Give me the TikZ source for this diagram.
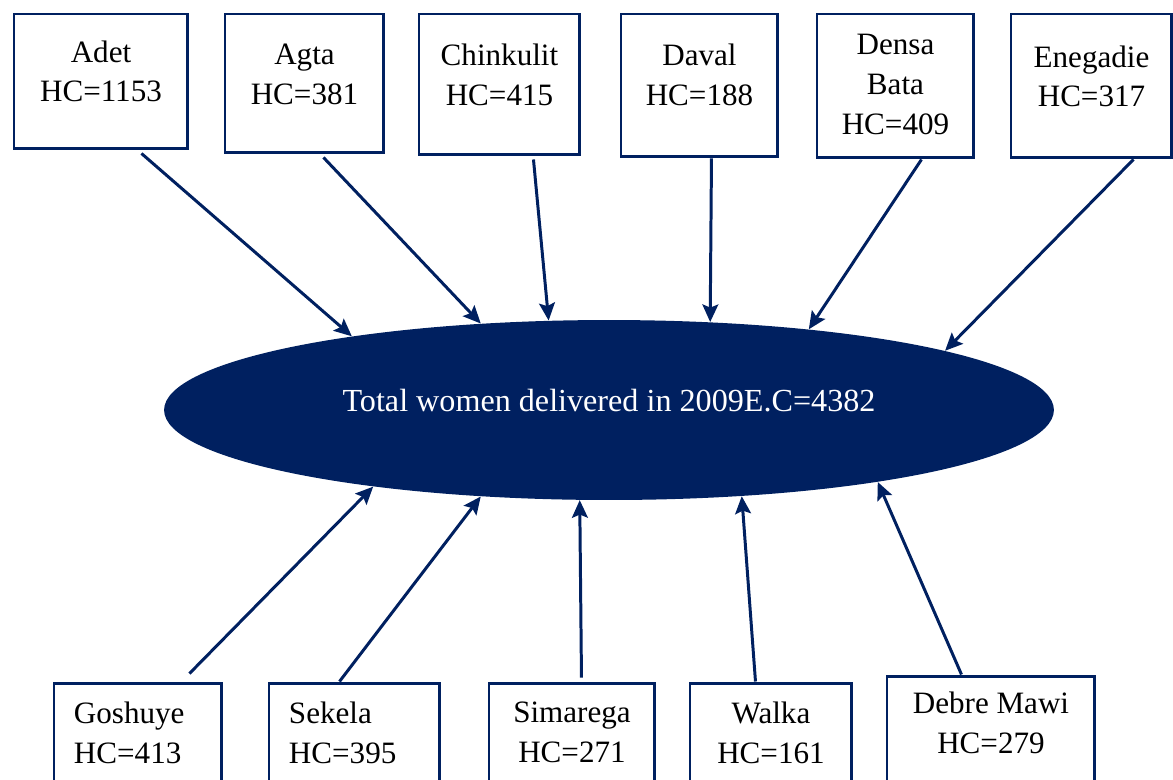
\documentclass[tikz,border=0pt]{standalone}
\usepackage{fontspec}
\setmainfont{Liberation Serif}
\usepackage{tikz}
\usetikzlibrary{arrows.meta,shapes,positioning}
\definecolor{navy}{RGB}{0,32,96}
% text of a box: width, height, space above first line, lines
\newcommand{\hctext}[4]{\parbox[c][#2][t]{#1}{\centering\vspace*{#3}#4}}
\tikzset{
  %Define standard arrow tip
    >={Stealth[length=10pt,width=9pt,inset=1.8pt]},
  %define style for boxes
  hcbox/.style={
    rectangle,
    draw=navy,line width=1.7pt,
    fill=white,
    inner sep=0pt,
    anchor=north west,
    font=\fontsize{17.7}{22.7}\selectfont},
  %define style for the total
  total/.style={
    ellipse,
    fill=navy,
    text=white,
    inner sep=0pt,
    minimum width=17.8cm,
    minimum height=3.6cm,
    text depth=0.4cm,
    font=\fontsize{18.3}{22.7}\selectfont},
  %define style for arrows
  flow/.style={
    ->,
    draw=navy,
    line width=1.7pt}
}
\begin{document}
\begin{tikzpicture}[x=0.02cm,y=-0.02cm]
\useasboundingbox (0,0) rectangle (1173,779);
%centre
\node[total] (tot) at (609,410) {Total women delivered in 2009E.C=4382};

%top row
\node[hcbox] (adet) at (12.5,12.5) {\hctext{3.48cm}{2.70cm}{0.53cm}{Adet\\HC=1153}};
\node[hcbox] (agta) at (223.5,12.5) {\hctext{3.18cm}{2.78cm}{0.60cm}{Agta\\HC=381}};
\node[hcbox] (chinkulit) at (417.5,12.5) {\hctext{3.22cm}{2.82cm}{0.60cm}{Chinkulit\\HC=415}};
\node[hcbox] (daval) at (619.5,12.5) {\hctext{3.14cm}{2.86cm}{0.60cm}{Daval\\HC=188}};
\node[hcbox] (densa) at (815.5,12.5) {\hctext{3.14cm}{2.88cm}{0.40cm}{Densa\\Bata\\HC=409}};
\node[hcbox] (enegadie) at (1009.5,12.5) {\hctext{3.22cm}{2.88cm}{0.63cm}{Enegadie\\HC=317}};

%bottom row
\node[hcbox] (goshuye) at (52.5,681.5) {\hctext{3.36cm}{2.4cm}{0.38cm}{\raggedright\leftskip=0.40cm Goshuye\\HC=413}};
\node[hcbox] (sekela) at (267.5,681.5) {\hctext{3.42cm}{2.4cm}{0.38cm}{\raggedright\leftskip=0.40cm Sekela\\HC=395}};
\node[hcbox] (simarega) at (487.5,681.5) {\hctext{3.32cm}{2.4cm}{0.38cm}{Simarega\\HC=271}};
\node[hcbox] (walka) at (688.5,681.5) {\hctext{3.24cm}{2.4cm}{0.38cm}{Walka\\HC=161}};
\node[hcbox] (debre) at (885.5,674.5) {\hctext{4.16cm}{2.4cm}{0.32cm}{Debre Mawi\\HC=279}};

%arrows from the top
\draw[flow] ([xshift=0.81cm,yshift=-0.06cm]adet.south) -- (tot.164.8);
\draw[flow] ([xshift=0.38cm,yshift=-0.06cm]agta.south) -- (tot.146.2);
\draw[flow] ([xshift=0.68cm,yshift=-0.06cm]chinkulit.south) -- (tot.124.3);
\draw[flow] ([xshift=0.24cm]daval.south) -- (tot.41.1);
\draw[flow] ([xshift=0.52cm]densa.south) -- (tot.22);
\draw[flow] ([xshift=0.84cm]enegadie.south) -- (tot.10.5);

%arrows from the bottom
\draw[flow] ([xshift=1.03cm,yshift=0.16cm]goshuye.north) -- (tot.198.3);
\draw[flow] ([xshift=-0.30cm]sekela.north) -- (tot.214.3);
\draw[flow] ([xshift=0.19cm,yshift=0.08cm]simarega.north) -- (tot.252.5);
\draw[flow] ([xshift=-0.31cm]walka.north) -- (tot.327);
\draw[flow] ([xshift=-0.59cm]debre.north) -- (tot.345);

\end{tikzpicture}
\end{document}
